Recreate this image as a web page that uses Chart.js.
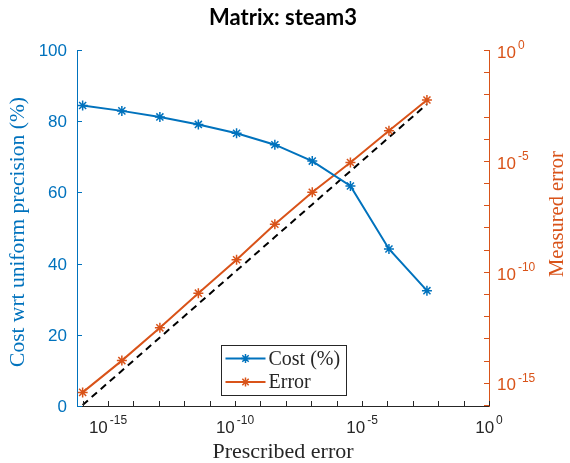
<!DOCTYPE html>
<html>
<head>
<meta charset="utf-8">
<script src="https://cdn.jsdelivr.net/npm/chart.js@4.4.0/dist/chart.umd.min.js"></script>
<style>
  html, body { margin: 0; padding: 0; background: #fff; }
  #wrap { width: 570px; height: 463px; }
</style>
</head>
<body>
<div id="wrap"><canvas id="chart" width="570" height="463"></canvas></div>
<script>
// values
const prescribed = [1.0e-16, 3.5e-15, 1.1e-13, 3.6e-12, 1.15e-10, 3.7e-9, 1.1e-7, 3.5e-6, 1.15e-4, 3.6e-3];
const costPct = [84.4, 82.9, 81.2, 79.1, 76.6, 73.4, 68.8, 61.8, 44.1, 32.4];
const measured = [3.7e-16, 1.0e-14, 3.0e-13, 1.1e-11, 3.5e-10, 1.4e-8, 3.9e-7, 8.5e-6, 2.3e-4, 5.6e-3];
const costTicks = [0, 20, 40, 60, 80, 100];
const labelExps = [-15, -10, -5, 0];

const BLUE = '#0072BD';
const ORANGE = '#D95319';
const AXIS = '#262626';
const SANS = '"Liberation Sans", Arial, sans-serif';
const SERIF = '"Liberation Serif", "Times New Roman", serif';

function drawStar(ctx, x, y, r, color) {
    ctx.save()
    ctx.strokeStyle = color
    ctx.lineWidth = 1.5
    ctx.beginPath()
    ctx.moveTo(x - r, y); ctx.lineTo(x + r, y)
    ctx.moveTo(x, y - r); ctx.lineTo(x, y + r)
    let d = r * Math.SQRT1_2
    ctx.moveTo(x - d, y - d); ctx.lineTo(x + d, y + d)
    ctx.moveTo(x - d, y + d); ctx.lineTo(x + d, y - d)
    ctx.stroke()
    ctx.restore()
}

function drawPow(ctx, exp, x, y, align, color) {
    ctx.save()
    ctx.fillStyle = color
    ctx.textBaseline = 'middle'
    ctx.textAlign = 'left'
    ctx.font = '17px ' + SANS
    let wb = ctx.measureText('10').width
    ctx.font = '12px ' + SANS
    let es = String(exp)
    let we = ctx.measureText(es).width
    let total = wb + 2 + we
    let sx = align === 'center' ? x - total / 2 : x
    ctx.font = '17px ' + SANS
    ctx.fillText('10', sx, y)
    ctx.font = '12px ' + SANS
    ctx.fillText(es, sx + wb + 2, y - 7.5)
    ctx.restore()
}

const decorations = {
    id: 'decorations',
    afterDraw(chart) {
        const ctx = chart.ctx
        const area = chart.chartArea
        const sx = chart.scales.x
        const sy = chart.scales.y
        const sy1 = chart.scales.y1
        const tl = 5

        ctx.save()
        ctx.lineWidth = 1
        // bottom axis ticks (every decade), labels at major ones
        ctx.strokeStyle = AXIS
        let e0 = Math.ceil(Math.log10(sx.min))
        for (let e = e0; e <= 0; e++) {
            let px = Math.round(sx.getPixelForValue(Math.pow(10, e))) + 0.5
            ctx.beginPath(); ctx.moveTo(px, area.bottom); ctx.lineTo(px, area.bottom - tl); ctx.stroke()
        }
        for (let e of labelExps) {
            drawPow(ctx, e, sx.getPixelForValue(Math.pow(10, e)), area.bottom + 22, 'center', AXIS)
        }

        // left axis ticks
        ctx.strokeStyle = BLUE
        ctx.fillStyle = BLUE
        ctx.font = '17px ' + SANS
        ctx.textAlign = 'right'
        ctx.textBaseline = 'middle'
        for (let v of costTicks) {
            let py = Math.round(sy.getPixelForValue(v)) + 0.5
            ctx.beginPath(); ctx.moveTo(area.left, py); ctx.lineTo(area.left + tl, py); ctx.stroke()
            ctx.fillText(String(v), area.left - 10, py + 1)
        }

        // right axis ticks
        ctx.strokeStyle = ORANGE
        let r0 = Math.ceil(Math.log10(sy1.min))
        for (let e = r0; e <= 0; e++) {
            let py = Math.round(sy1.getPixelForValue(Math.pow(10, e))) + 0.5
            ctx.beginPath(); ctx.moveTo(area.right, py); ctx.lineTo(area.right - tl, py); ctx.stroke()
        }
        for (let e of labelExps) {
            drawPow(ctx, e, area.right + 8, sy1.getPixelForValue(Math.pow(10, e)) + 3, 'left', ORANGE)
        }

        // axis titles
        let cy = (area.top + area.bottom) / 2
        let cx = (area.left + area.right) / 2
        ctx.textAlign = 'center'
        ctx.textBaseline = 'middle'
        ctx.fillStyle = BLUE
        ctx.font = '21.5px ' + SERIF
        ctx.save(); ctx.translate(18, cy + 4); ctx.rotate(-Math.PI / 2)
        ctx.fillText('Cost wrt uniform precision (%)', 0, 0); ctx.restore()
        ctx.fillStyle = ORANGE
        ctx.font = '20.5px ' + SERIF
        ctx.save(); ctx.translate(558, cy - 14); ctx.rotate(-Math.PI / 2)
        ctx.fillText('Measured error', 0, 0); ctx.restore()
        ctx.fillStyle = AXIS
        ctx.font = '22px ' + SERIF
        ctx.fillText('Prescribed error', cx, 452)

        // title
        ctx.fillStyle = '#000'
        ctx.font = 'bold 22px Lato, sans-serif'
        ctx.fillText('Matrix: steam3', cx, 18)

        // legend
        let bw = 125, bh = 50
        let bx = Math.round(cx - bw / 2) + 0.5
        let by = Math.round(area.bottom - 11 - bh) + 0.5
        ctx.fillStyle = '#fff'
        ctx.fillRect(bx, by, bw, bh)
        ctx.strokeStyle = AXIS
        ctx.lineWidth = 1
        ctx.strokeRect(bx, by, bw, bh)
        const items = [
            { label: 'Cost (%)', color: BLUE },
            { label: 'Error', color: ORANGE }
        ]
        items.forEach((it, i) => {
            let ly = by + 13 + i * 23.5
            ctx.strokeStyle = it.color
            ctx.lineWidth = 2
            ctx.beginPath(); ctx.moveTo(bx + 4, ly); ctx.lineTo(bx + 44, ly); ctx.stroke()
            drawStar(ctx, bx + 24, ly, 4.5, it.color)
            ctx.fillStyle = AXIS
            ctx.font = '20px ' + SERIF
            ctx.textAlign = 'left'
            ctx.fillText(it.label, bx + 47, ly + 1)
        })
        ctx.restore()
    }
}

const ctx = document.getElementById('chart')
new Chart(ctx, {
    type: 'line',
    data: {
        datasets: [
            {
                label: 'Cost (%)',
                data: prescribed.map((p, i) => ({ x: p, y: costPct[i] })),
                yAxisID: 'y',
                borderColor: BLUE,
                backgroundColor: BLUE,
                borderWidth: 2,
                pointStyle: 'star',
                pointRadius: 5,
                pointBorderWidth: 1.5,
                tension: 0
            },
            {
                label: 'Error',
                data: prescribed.map((p, i) => ({ x: p, y: measured[i] })),
                yAxisID: 'y1',
                borderColor: ORANGE,
                backgroundColor: ORANGE,
                borderWidth: 2,
                pointStyle: 'star',
                pointRadius: 5,
                pointBorderWidth: 1.5,
                tension: 0
            },
            {
                label: 'reference',
                data: prescribed.map(p => ({ x: p, y: p })),
                yAxisID: 'y1',
                borderColor: '#000',
                borderWidth: 2,
                borderDash: [7, 5],
                pointRadius: 0,
                tension: 0
            }
        ]
    },
    options: {
        responsive: false,
        animation: false,
        layout: { padding: { top: 50 } },
        plugins: {
            legend: { display: false },
            title: { display: false },
            tooltip: { enabled: false }
        },
        scales: {
            x: {
                type: 'logarithmic',
                min: 6.0e-17,
                max: 1,
                grid: { display: false },
                border: { display: true, color: AXIS, width: 1 },
                ticks: { display: false },
                afterFit(scale) { scale.height = 57 }
            },
            y: {
                type: 'linear',
                position: 'left',
                min: 0,
                max: 100,
                grid: { display: false },
                border: { display: true, color: BLUE, width: 1 },
                ticks: { display: false },
                afterFit(scale) { scale.width = 77 }
            },
            y1: {
                type: 'logarithmic',
                position: 'right',
                min: 9.3e-17,
                max: 1,
                grid: { display: false },
                border: { display: true, color: ORANGE, width: 1 },
                ticks: { display: false },
                afterFit(scale) { scale.width = 81 }
            }
        }
    },
    plugins: [decorations]
})
</script>
</body>
</html>
